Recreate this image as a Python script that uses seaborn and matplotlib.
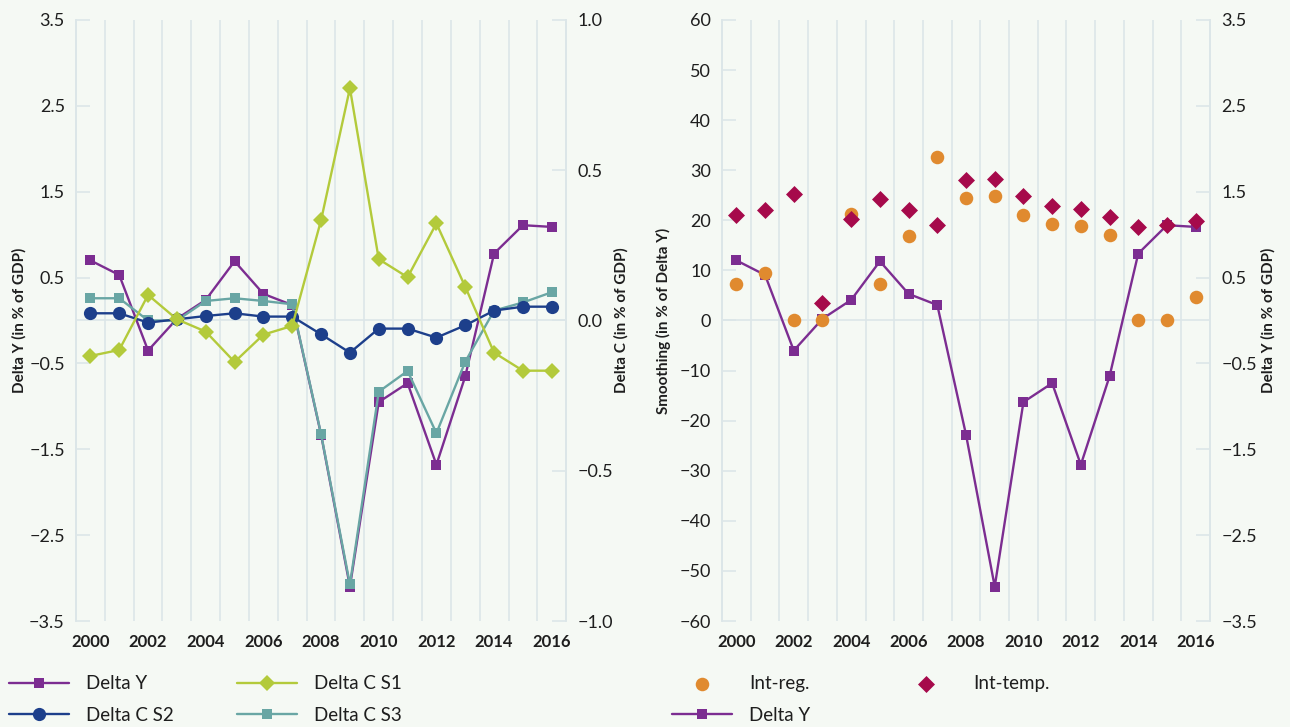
import numpy as np
import pandas as pd
import seaborn as sns
import matplotlib.pyplot as plt

# Data
years = list(range(2000, 2017))
delta_y = [0.70, 0.53, -0.35, 0.02, 0.24, 0.69, 0.31, 0.18, -1.33, -3.10,
           -0.95, -0.73, -1.68, -0.65, 0.78, 1.11, 1.09]
delta_c_s1 = [-0.118, -0.098, 0.085, 0.004, -0.037, -0.138, -0.047, -0.018, 0.334, 0.773,
              0.204, 0.144, 0.323, 0.112, -0.107, -0.167, -0.167]
delta_c_s2 = [0.024, 0.024, -0.007, 0.004, 0.015, 0.024, 0.013, 0.013, -0.046, -0.107,
              -0.027, -0.027, -0.057, -0.016, 0.033, 0.046, 0.046]
delta_c_s3 = [0.074, 0.074, 0.0, 0.0, 0.065, 0.074, 0.065, 0.054, -0.378, -0.878,
              -0.237, -0.168, -0.375, -0.137, 0.033, 0.06, 0.094]
int_reg = [7.2, 9.5, 0.0, 0.0, 21.3, 7.2, 16.8, 32.6, 24.4, 24.8,
           21.1, 19.3, 18.8, 17.0, 0.0, 0.0, 4.6]
int_temp = [21.1, 22.0, 25.3, 3.5, 20.3, 24.2, 22.1, 19.0, 28.0, 28.3,
            24.8, 22.8, 22.3, 20.6, 18.6, 19.0, 19.9]

left_ticks = [-3.5, -2.5, -1.5, -0.5, 0.5, 1.5, 2.5, 3.5]
c_ticks = [-1.0, -0.5, 0.0, 0.5, 1.0]
smooth_ticks = list(range(-60, 61, 10))
year_ticks = years[::2]

df = pd.DataFrame({'year': years, 'delta_y': delta_y, 's1': delta_c_s1,
                   's2': delta_c_s2, 's3': delta_c_s3,
                   'int_reg': int_reg, 'int_temp': int_temp})

purple = '#7c2d91'
lime = '#b3ca3b'
navy = '#1d3f8b'
teal = '#69a6a4'
orange = '#e08a2f'
crimson = '#a60a4b'
bg = '#f5f9f4'
gridc = '#dce6e8'
textc = '#1e1e1e'

sns.set_style('white')
plt.rcParams['font.family'] = ['Lato', 'DejaVu Sans']
plt.rcParams['text.color'] = textc
plt.rcParams['axes.labelcolor'] = textc

fig = plt.figure(figsize=(12.9, 7.27), dpi=100, facecolor=bg)


def fmt(v, nd=1):
    return f'{v:.{nd}f}'.replace('-', '\u2212')


def style_axes(ax, side):
    ax.patch.set_visible(False)
    for s in ['top', 'bottom']:
        ax.spines[s].set_visible(False)
    for s in ['left', 'right']:
        ax.spines[s].set_color(gridc)
        ax.spines[s].set_linewidth(1.2)
    if side == 'left':
        ax.yaxis.tick_left()
        ax.yaxis.set_label_position('left')
    else:
        ax.yaxis.tick_right()
        ax.yaxis.set_label_position('right')
    ax.tick_params(axis='y', direction='in', length=10, width=1.2, color=gridc,
                   labelsize=13, labelcolor=textc, pad=8)


def style_x(ax):
    ax.set_xlim(1999.5, 2016.5)
    ax.set_xticks(year_ticks)
    ax.set_xticks(np.arange(1999.5, 2017, 1.0), minor=True)
    ax.tick_params(axis='x', which='both', length=0, labelsize=12, pad=9,
                   labelcolor=textc)
    for t in ax.get_xticklabels():
        t.set_fontweight('bold')
    ax.grid(axis='x', which='minor', color=gridc, linewidth=1.2)
    ax.grid(axis='x', which='major', visible=False)
    ax.set_xlabel('')
    ax.axhline(0, color=gridc, linewidth=1.2, zorder=0)


line_kw = dict(linewidth=1.7, markeredgewidth=0, legend=False)
leg_kw = dict(loc='upper left', ncol=2, frameon=False, fontsize=13.5,
              handlelength=3.2, handletextpad=0.9, labelspacing=0.78,
              borderpad=0, borderaxespad=0)

# ---------------- left chart ----------------
ax1 = fig.add_axes([0.0589, 0.1458, 0.380, 0.8267])
ax1b = ax1.twinx()

sns.lineplot(data=df, x='year', y='delta_y', ax=ax1, color=purple, marker='s',
             markersize=7.5, label='Delta Y', **line_kw)
ax1.set_ylim(-3.5, 3.5)
ax1.set_yticks(left_ticks)
ax1.set_yticklabels([fmt(v) for v in left_ticks])
style_axes(ax1, 'left')
style_x(ax1)
ax1.set_ylabel('Delta Y (in % of GDP)', fontsize=11, fontweight='bold')
ax1.yaxis.set_label_coords(-0.100, 0.5)

sns.lineplot(data=df, x='year', y='s3', ax=ax1b, color=teal, marker='s',
             markersize=7.5, label='Delta C S3', **line_kw)
sns.lineplot(data=df, x='year', y='s2', ax=ax1b, color=navy, marker='o',
             markersize=9.5, label='Delta C S2', **line_kw)
sns.lineplot(data=df, x='year', y='s1', ax=ax1b, color=lime, marker='D',
             markersize=8.5, label='Delta C S1', **line_kw)
ax1b.set_ylim(-1.0, 1.0)
ax1b.set_yticks(c_ticks)
ax1b.set_yticklabels([fmt(v) for v in c_ticks])
style_axes(ax1b, 'right')
ax1b.set_xlim(1999.5, 2016.5)
ax1b.set_ylabel('Delta C (in % of GDP)', fontsize=11, fontweight='bold')
ax1b.yaxis.set_label_coords(1.098, 0.5)

h1, l1 = ax1.get_legend_handles_labels()
h1b, l1b = ax1b.get_legend_handles_labels()
hd = dict(zip(l1 + l1b, h1 + h1b))
order = ['Delta Y', 'Delta C S2', 'Delta C S1', 'Delta C S3']
fig.legend([hd[k] for k in order], order, bbox_to_anchor=(0.007, 0.071),
           columnspacing=3.4, **leg_kw)

# ---------------- right chart ----------------
# host axes carries Delta Y (right scale), twin carries the smoothing scatter on top
ax2 = fig.add_axes([0.5597, 0.1458, 0.3783, 0.8267])
ax2b = ax2.twinx()

sns.lineplot(data=df, x='year', y='delta_y', ax=ax2, color=purple, marker='s',
             markersize=7.5, label='Delta Y', **line_kw)
ax2.set_ylim(-3.5, 3.5)
ax2.set_yticks(left_ticks)
ax2.set_yticklabels([fmt(v) for v in left_ticks])
style_axes(ax2, 'right')
style_x(ax2)
ax2.set_ylabel('Delta Y (in % of GDP)', fontsize=11, fontweight='bold')
ax2.yaxis.set_label_coords(1.105, 0.5)

sns.scatterplot(data=df, x='year', y='int_reg', ax=ax2b, color=orange, marker='o',
                s=95, linewidth=0, label='Int-reg.', legend=False)
sns.scatterplot(data=df, x='year', y='int_temp', ax=ax2b, color=crimson, marker='D',
                s=75, linewidth=0, label='Int-temp.', legend=False)
ax2b.set_ylim(-60, 60)
ax2b.set_yticks(smooth_ticks)
ax2b.set_yticklabels([fmt(v, 0) for v in smooth_ticks])
style_axes(ax2b, 'left')
ax2b.set_xlim(1999.5, 2016.5)
ax2b.set_ylabel('Smoothing (in % of Delta Y)', fontsize=11, fontweight='bold')
ax2b.yaxis.set_label_coords(-0.105, 0.5)

h2, l2 = ax2.get_legend_handles_labels()
h2b, l2b = ax2b.get_legend_handles_labels()
hd2 = dict(zip(l2 + l2b, h2 + h2b))
order2 = ['Int-reg.', 'Delta Y', 'Int-temp.']
fig.legend([hd2[k] for k in order2], order2, bbox_to_anchor=(0.521, 0.071),
           columnspacing=4.6, **leg_kw)

fig.savefig('out.png', dpi=100, facecolor=bg)
